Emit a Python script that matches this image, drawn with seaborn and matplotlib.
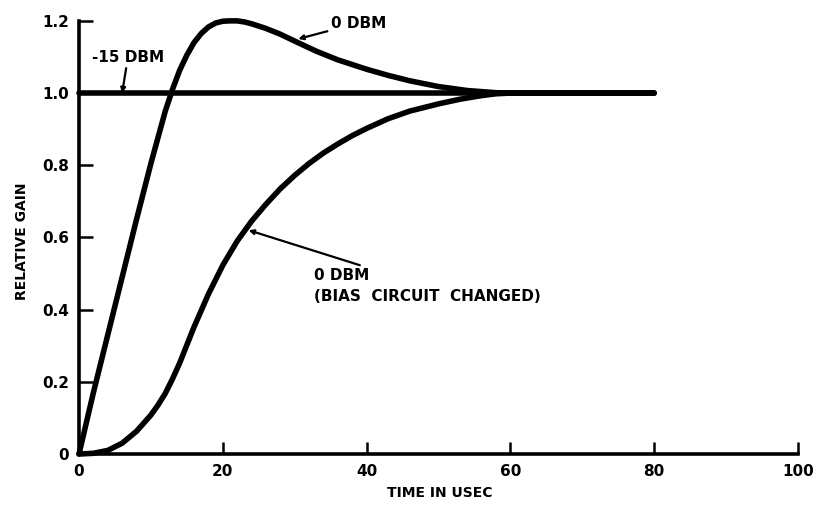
import numpy as np
import pandas as pd
import matplotlib
matplotlib.use('Agg')
import matplotlib.pyplot as plt
import seaborn as sns

# values (time in usec, relative gain)
t_0dbm = [0, 2, 4, 6, 8, 10, 12, 13, 14, 15, 16, 17, 18, 19, 20, 21, 22, 23,
          24, 26, 28, 30, 33, 36, 40, 43, 46, 50, 54, 58, 60, 70, 80]
gain_0dbm = [0, 0.17, 0.33, 0.49, 0.65, 0.805, 0.95, 1.01, 1.063, 1.105,
             1.14, 1.165, 1.183, 1.194, 1.199, 1.2, 1.2, 1.197, 1.192, 1.179,
             1.163, 1.144, 1.116, 1.092, 1.066, 1.049, 1.034, 1.018, 1.007,
             1.001, 1.0, 1.0, 1.0]

t_bias = [0, 2, 4, 6, 8, 10, 11, 12, 13, 14, 16, 18, 20, 22, 24, 26, 28, 30,
          32, 34, 36, 38, 40, 43, 46, 50, 53, 56, 58, 60, 70, 80]
gain_bias = [0, 0.002, 0.01, 0.03, 0.063, 0.108, 0.136, 0.168, 0.208, 0.252,
             0.352, 0.443, 0.523, 0.59, 0.645, 0.692, 0.735, 0.772, 0.805,
             0.834, 0.859, 0.882, 0.902, 0.929, 0.95, 0.97, 0.983, 0.993,
             0.998, 1.0, 1.0, 1.0]

t_m15 = [0, 80]
gain_m15 = [1.0, 1.0]

x_ticks = [0, 20, 40, 60, 80, 100]
y_ticks = [0, 0.2, 0.4, 0.6, 0.8, 1.0, 1.2]
y_tick_labels = ['0', '0.2', '0.4', '0.6', '0.8', '1.0', '1.2']

sns.set_style('ticks')
plt.rcParams['font.family'] = ['DejaVu Sans']
plt.rcParams['font.weight'] = 'heavy'
plt.rcParams['text.color'] = 'black'
plt.rcParams['xtick.color'] = 'black'
plt.rcParams['ytick.color'] = 'black'

fig = plt.figure(figsize=(8.17, 5.09), dpi=100)
ax = fig.add_axes([0.0967, 0.108, 0.880, 0.851])

lw = 4.0
for t, g in [(t_m15, gain_m15), (t_bias, gain_bias), (t_0dbm, gain_0dbm)]:
    df = pd.DataFrame({'t': t, 'g': g})
    sns.lineplot(data=df, x='t', y='g', ax=ax, color='black', lw=lw,
                 sort=False, estimator=None, clip_on=False,
                 solid_capstyle='round', solid_joinstyle='round')

ax.set_xlim(0, 100)
ax.set_ylim(0, 1.2)
ax.set_xticks(x_ticks)
ax.set_xticklabels([str(v) for v in x_ticks])
ax.set_yticks(y_ticks)
ax.set_yticklabels(y_tick_labels)
ax.tick_params(direction='in', width=1.8, color='black', labelcolor='black',
               labelsize=11, pad=7)
ax.tick_params(axis='y', length=10)
ax.tick_params(axis='x', length=9)
for lab in ax.get_xticklabels() + ax.get_yticklabels():
    lab.set_fontweight('heavy')
sns.despine(ax=ax)
for side in ['left', 'bottom']:
    ax.spines[side].set_linewidth(2.6)
    ax.spines[side].set_color('black')

ax.set_xlabel('')
ax.set_ylabel('')
fig.text(0.538, 0.031, 'TIME IN USEC', ha='center', va='center',
         fontsize=10, fontweight='heavy', color='black')
fig.text(0.027, 0.527, 'RELATIVE GAIN', ha='center', va='center',
         rotation=90, fontsize=10, fontweight='heavy', color='black')

arrow = dict(arrowstyle='-|>', lw=1.6, color='black', mutation_scale=7,
             shrinkA=0, shrinkB=0)
txt = dict(fontsize=11, fontweight='heavy', color='black')

ax.annotate('-15 DBM', xy=(6.0, 1.0), xytext=(6.8, 1.078),
            arrowprops=arrow, ha='center', va='bottom', **txt)
ax.annotate('0 DBM', xy=(30.5, 1.15), xytext=(35.0, 1.194),
            arrowprops=arrow, ha='left', va='center', **txt)
ax.annotate('0 DBM\n(BIAS  CIRCUIT  CHANGED)', xy=(23.6, 0.62),
            xytext=(32.7, 0.514), arrowprops=arrow, ha='left', va='top',
            linespacing=1.5, **txt)

fig.savefig('out.png', dpi=100, facecolor='white')
